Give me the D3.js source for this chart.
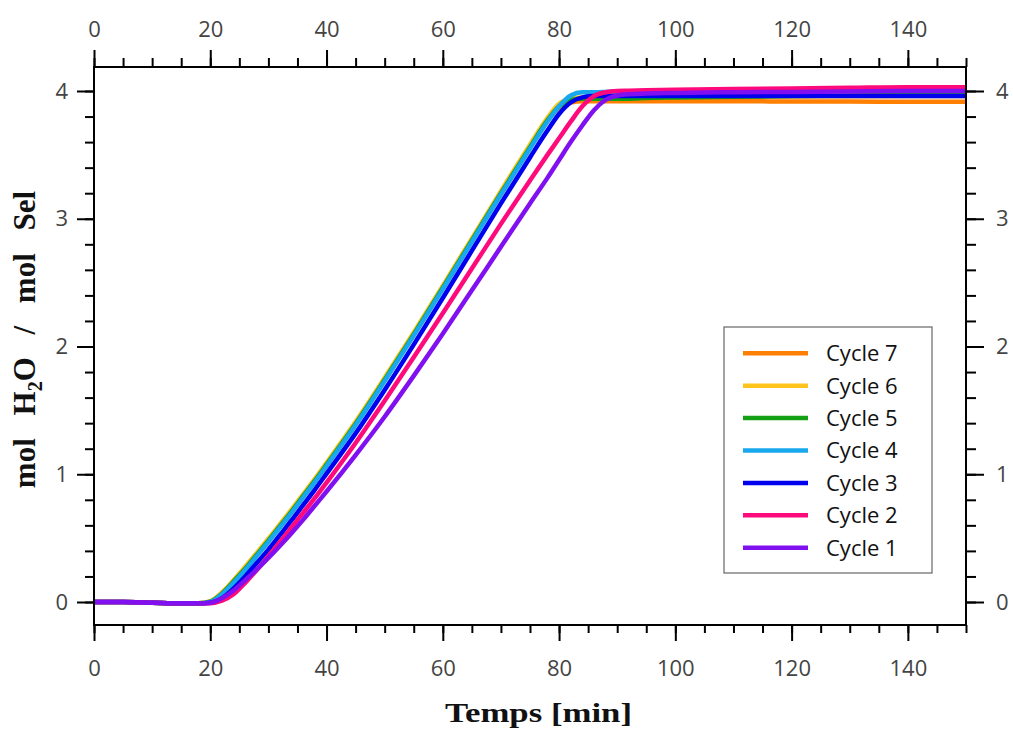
<!DOCTYPE html>
<html>
<head>
<meta charset="utf-8">
<script src="https://cdn.jsdelivr.net/npm/d3@7"></script>
<style>
  html, body { margin: 0; padding: 0; background: #fff; }
  svg { display: block; }
</style>
</head>
<body>
<svg id="chart" width="1013" height="731"></svg>
<script>
// ---- data ----
const times = [0,5,10,15,18,20,22,24,26,28,30,32,34,36,38,40,45,50,55,60,65,70,75,78,80,82,84,86,88,90,92,95,100,110,120,130,140,150];

const cycle7 = [0,0,-0.005,-0.01,-0.01, 0.005,0.07,0.165,0.27,0.38, 0.49,0.605,0.72,0.84,0.96, 1.085,1.405,1.75,2.105,2.47, 2.84,3.21,3.57,3.77,3.87, 3.91,3.92,3.92,3.92,3.92, 3.92,3.92,3.92,3.92,3.918, 3.918,3.915,3.915];
const cycle6 = [0,0,-0.005,-0.01,-0.01, 0.005,0.075,0.17,0.275,0.385, 0.495,0.61,0.725,0.845,0.965, 1.09,1.41,1.755,2.11,2.475, 2.845,3.215,3.58,3.79,3.9, 3.94,3.95,3.95,3.95,3.95, 3.95,3.952,3.953,3.955,3.957, 3.958,3.96,3.96];
const cycle5 = [0,0,-0.005,-0.01,-0.01, 0.003,0.065,0.16,0.26,0.37, 0.48,0.595,0.71,0.83,0.95, 1.075,1.395,1.74,2.095,2.46, 2.83,3.20,3.56,3.77,3.88, 3.93,3.94,3.94,3.94,3.94, 3.94,3.945,3.95,3.955,3.96, 3.965,3.975,3.98];
const cycle4 = [0,0,-0.005,-0.01,-0.01, 0.0,0.06,0.15,0.25,0.36, 0.47,0.585,0.70,0.82,0.94, 1.065,1.385,1.73,2.085,2.45, 2.82,3.19,3.55,3.76,3.88, 3.965,3.99,3.99,3.992,3.995, 3.997,4.0,4.0,4.005,4.01, 4.015,4.02,4.02];
const cycle3 = [0,0,-0.005,-0.01,-0.01, -0.005,0.03,0.105,0.2,0.305, 0.41,0.525,0.64,0.76,0.88, 1.005,1.32,1.66,2.015,2.38, 2.75,3.12,3.48,3.69,3.82, 3.91,3.95,3.96,3.96,3.96, 3.96,3.96,3.96,3.96,3.96, 3.96,3.96,3.96];
const cycle2 = [0,0,-0.005,-0.01,-0.01, -0.01,0.01,0.06,0.15,0.25, 0.36,0.47,0.585,0.70,0.815, 0.935,1.245,1.575,1.915,2.26, 2.61,2.96,3.30,3.50,3.63, 3.76,3.88,3.96,3.99,4.0, 4.002,4.005,4.01,4.015,4.02, 4.025,4.03,4.03];
const cycle1 = [0,0,-0.005,-0.01,-0.01, -0.005,0.03,0.09,0.17,0.255, 0.345,0.44,0.54,0.645,0.755, 0.865,1.15,1.45,1.77,2.10, 2.44,2.78,3.12,3.32,3.46, 3.60,3.73,3.85,3.93,3.965, 3.975,3.98,3.985,3.99,3.993, 3.996,4.0,4.0];

const seriesNames = ["Cycle 7","Cycle 6","Cycle 5","Cycle 4","Cycle 3","Cycle 2","Cycle 1"];
const seriesValues = [cycle7, cycle6, cycle5, cycle4, cycle3, cycle2, cycle1];
const seriesColors = ["#ff7f00","#ffc41c","#14a014","#18a8ee","#0000ee","#ff0a7c","#8010f0"];

const xMajorTicks = [0,20,40,60,80,100,120,140];
const yMajorTicks = [0,1,2,3,4];
const xTitle = "Temps [min]";

// ---- layout ----
const L = 94, R = 966, T = 67, B = 625;
const svg = d3.select("#chart");
svg.append("rect").attr("width",1013).attr("height",731).attr("fill","#fff");

const x = d3.scaleLinear().domain([0,150]).range([L,R]);
const y = d3.scaleLinear().domain([-0.18, 4.1879]).range([B,T]);

const tickFont = "'Open Sans', 'DejaVu Sans', sans-serif";
const xMinor = d3.range(0,150.01,5);
const yMinor = d3.range(0,4.01,0.2);

function styleAxis(g){
  g.select(".domain").remove();
  g.selectAll("line").attr("stroke","#000").attr("stroke-width",2);
  g.selectAll("text").attr("fill","#444").style("font-family",tickFont).style("font-size","22px");
}

// bottom
svg.append("g").attr("transform",`translate(0,${B})`)
  .call(d3.axisBottom(x).tickValues(xMinor).tickSize(8).tickFormat(""))
  .call(styleAxis);
svg.append("g").attr("transform",`translate(0,${B})`)
  .call(d3.axisBottom(x).tickValues(xMajorTicks).tickSize(16).tickPadding(19).tickFormat(d3.format("d")))
  .call(styleAxis);
// top
svg.append("g").attr("transform",`translate(0,${T})`)
  .call(d3.axisTop(x).tickValues(xMinor).tickSize(9).tickFormat(""))
  .call(styleAxis);
svg.append("g").attr("transform",`translate(0,${T})`)
  .call(d3.axisTop(x).tickValues(xMajorTicks).tickSize(17).tickPadding(13).tickFormat(d3.format("d")))
  .call(styleAxis);
// left
svg.append("g").attr("transform",`translate(${L},0)`)
  .call(d3.axisLeft(y).tickValues(yMinor).tickSize(9).tickFormat(""))
  .call(styleAxis);
svg.append("g").attr("transform",`translate(${L},0)`)
  .call(d3.axisLeft(y).tickValues(yMajorTicks).tickSize(17).tickPadding(9).tickFormat(d3.format("d")))
  .call(styleAxis);
// right
svg.append("g").attr("transform",`translate(${R},0)`)
  .call(d3.axisRight(y).tickValues(yMinor).tickSize(10).tickFormat(""))
  .call(styleAxis);
svg.append("g").attr("transform",`translate(${R},0)`)
  .call(d3.axisRight(y).tickValues(yMajorTicks).tickSize(18).tickPadding(12).tickFormat(d3.format("d")))
  .call(styleAxis);

// clip
svg.append("clipPath").attr("id","plotclip").append("rect")
  .attr("x",L).attr("y",T).attr("width",R-L).attr("height",B-T);

// lines
const line = d3.line().x(d=>x(d[0])).y(d=>y(d[1])).curve(d3.curveMonotoneX);
const gl = svg.append("g").attr("clip-path","url(#plotclip)");
seriesValues.forEach((vals,i)=>{
  const pts = times.map((t,j)=>[t, vals[j]]);
  gl.append("path").datum(pts).attr("d",line)
    .attr("fill","none").attr("stroke",seriesColors[i])
    .attr("stroke-width",4.5).attr("stroke-linejoin","round").attr("stroke-linecap","round");
});

// frame
svg.append("rect").attr("x",L).attr("y",T).attr("width",R-L).attr("height",B-T)
  .attr("fill","none").attr("stroke","#000").attr("stroke-width",2);

// legend
const lg = svg.append("g");
lg.append("rect").attr("x",724).attr("y",327).attr("width",208).attr("height",246)
  .attr("fill","#fff").attr("stroke","#666").attr("stroke-width",1.2);
seriesNames.forEach((n,i)=>{
  const yy = 353.3 + i*32.4;
  lg.append("line").attr("x1",743).attr("x2",808).attr("y1",yy).attr("y2",yy)
    .attr("stroke",seriesColors[i]).attr("stroke-width",4.5);
  lg.append("text").attr("x",826).attr("y",yy).attr("dy","0.36em")
    .style("font-family",tickFont).style("font-size","22px").attr("fill","#111").text(n);
});

// axis titles
svg.append("text").attr("x",538.5).attr("y",722).attr("text-anchor","middle")
  .style("font-family","'Liberation Serif', 'DejaVu Serif', serif").style("font-size","28px")
  .style("font-weight","bold").attr("fill","#111")
  .attr("textLength",187).attr("lengthAdjust","spacingAndGlyphs")
  .text(xTitle);

const yt = svg.append("text").attr("transform","translate(35,339.5) rotate(-90)")
  .attr("text-anchor","middle")
  .style("font-family","'Liberation Serif', 'DejaVu Serif', serif").style("font-size","31px")
  .style("font-weight","bold").attr("fill","#111")
  .style("word-spacing","15px");
yt.append("tspan").text("mol H");
yt.append("tspan").attr("dy",7).style("font-size","20px").text("2");
yt.append("tspan").attr("dy",-7).text("O / mol Sel");
</script>
</body>
</html>
